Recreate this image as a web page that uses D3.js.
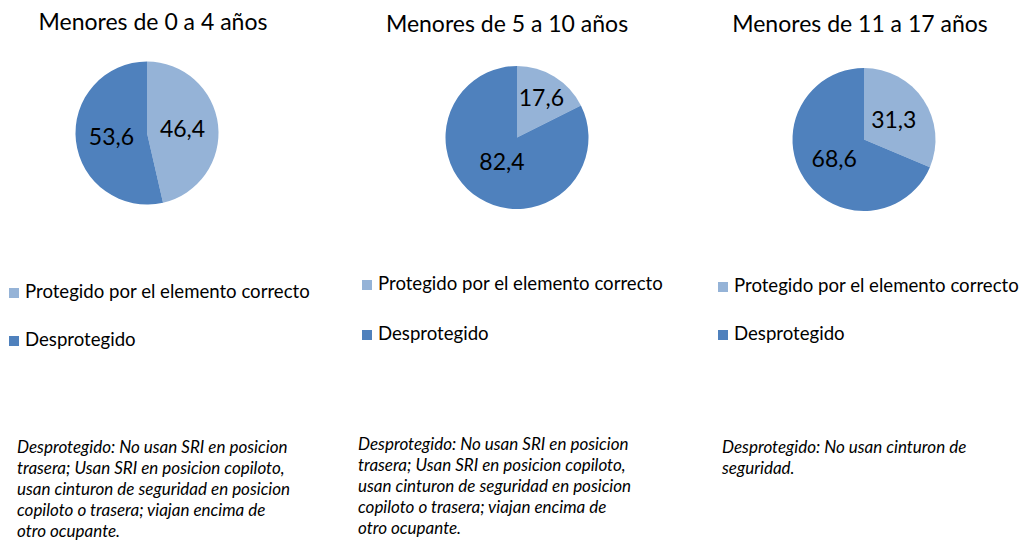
<!DOCTYPE html>
<html lang="es">

<head>
  <meta charset="UTF-8">
  <title>Protección de menores</title>
  <style>
    body {
      margin: 0;
      background: #fff;
    }

    text {
      font-family: Lato, "Open Sans", sans-serif;
      fill: #000;
    }
  </style>
</head>

<body>

  <script src="https://d3js.org/d3.v7.min.js"></script>

  <script>
    // data
    const groups = ["Menores de 0 a 4 años", "Menores de 5 a 10 años", "Menores de 11 a 17 años"];
    const categories = ["Protegido por el elemento correcto", "Desprotegido"];
    const protegido = [46.4, 17.6, 31.3];
    const desprotegido = [53.6, 82.4, 68.6];
    const notes = [
      ["Desprotegido: No usan SRI en posicion", "trasera; Usan SRI en posicion copiloto,", "usan cinturon de seguridad en posicion", "copiloto o trasera; viajan encima de", "otro ocupante."],
      ["Desprotegido: No usan SRI en posicion", "trasera; Usan SRI en posicion copiloto,", "usan cinturon de seguridad en posicion", "copiloto o trasera; viajan encima de", "otro ocupante."],
      ["Desprotegido: No usan cinturon de", "seguridad."]
    ];

    // where each panel sits on the page
    const layout = [
      { cx: 147, cy: 133, titleX: 153, titleY: 30, legX: 9, legY: [298, 346], noteX: 17, noteY: 453 },
      { cx: 517, cy: 137.5, titleX: 507, titleY: 32, legX: 362, legY: [290, 340], noteX: 358, noteY: 450 },
      { cx: 864, cy: 139.5, titleX: 860, titleY: 32, legX: 718, legY: [292, 340], noteX: 722, noteY: 453 }
    ];

    const width = 1023, height = 541, radius = 71.5;

    const color = d3.scaleOrdinal()
      .domain(categories)
      .range(["#95B3D7", "#4F81BD"]);

    const pie = d3.pie()
      .sort(null)
      .value(d => d.value);

    const arc = d3.arc()
      .innerRadius(0)
      .outerRadius(radius);

    const svg = d3.select("body")
      .append("svg")
      .attr("width", width)
      .attr("height", height);

    groups.forEach((title, i) => {
      const L = layout[i];
      const values = [
        { cat: categories[0], value: protegido[i] },
        { cat: categories[1], value: desprotegido[i] }
      ];
      const total = d3.sum(values, d => d.value);

      svg.append("text")
        .attr("x", L.titleX)
        .attr("y", L.titleY)
        .attr("text-anchor", "middle")
        .style("font-size", "23px")
        .text(title);

      const g = svg.append("g")
        .attr("transform", `translate(${L.cx},${L.cy})`);

      const slices = pie(values);

      g.selectAll("path")
        .data(slices)
        .join("path")
        .attr("d", arc)
        .attr("fill", d => color(d.data.cat));

      // excel-ish label placement: small slices pushed out, big ones pulled in
      g.selectAll("text")
        .data(slices)
        .join("text")
        .attr("transform", d => {
          const p = d.data.value / total;
          const k = p < 0.25 ? 0.65 : p > 0.75 ? 0.4 : 0.5;
          const a = (d.startAngle + d.endAngle) / 2;
          return `translate(${Math.sin(a) * radius * k},${-Math.cos(a) * radius * k})`;
        })
        .attr("text-anchor", "middle")
        .attr("dy", "0.35em")
        .style("font-size", "23px")
        .text(d => d3.format(".1f")(d.data.value).replace(".", ","));

      // legend
      const leg = svg.append("g");
      categories.forEach((c, j) => {
        leg.append("rect")
          .attr("x", L.legX)
          .attr("y", L.legY[j] - 10)
          .attr("width", 10)
          .attr("height", 10)
          .attr("fill", color(c));
        leg.append("text")
          .attr("x", L.legX + 16)
          .attr("y", L.legY[j])
          .style("font-size", "18.6px")
          .text(c);
      });

      // note
      svg.append("text")
        .attr("x", L.noteX)
        .attr("y", L.noteY)
        .style("font-size", "17px")
        .style("font-style", "italic")
        .selectAll("tspan")
        .data(notes[i])
        .join("tspan")
        .attr("x", L.noteX)
        .attr("dy", (d, j) => j === 0 ? 0 : 21)
        .text(d => d);
    });
  </script>
</body>

</html>
